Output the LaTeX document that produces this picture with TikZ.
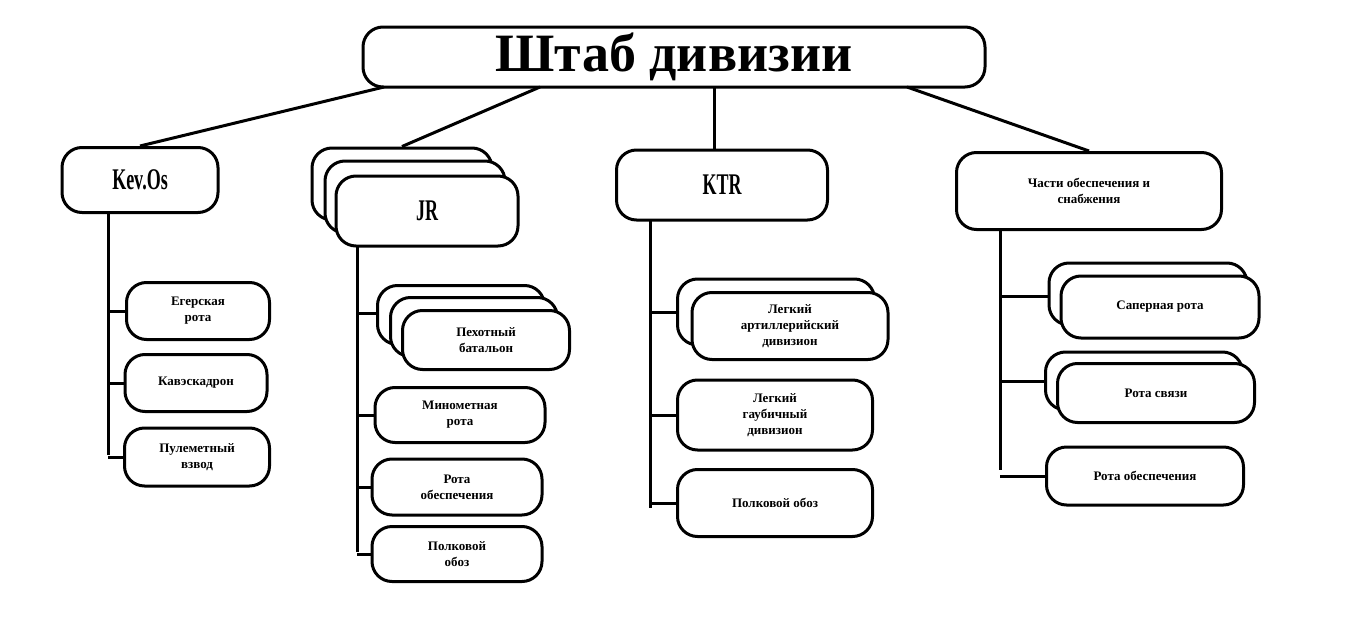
\documentclass[tikz,border=0pt]{standalone}
\usepackage{fontspec}
\setmainfont{Liberation Serif}
\tikzset{
	box/.style={draw, line width=3pt, rounded corners=20pt, fill=white, align=center, font=\bfseries\fontsize{13}{16}\selectfont, inner sep=2pt},
	head/.style={box, font=\bfseries\fontsize{30}{32}\selectfont\addfontfeature{FakeStretch=0.6}},
	link/.style={line width=3pt}
}
\begin{document}
\begin{tikzpicture}[x=1pt,y=-1pt]
			\useasboundingbox (0,0) rectangle (1350,629);
			\node[box, minimum width=622, minimum height=60, font=\bfseries\fontsize{54}{56}\selectfont] (shtab) at (674,57) {Штаб дивизии};
			% first level
			\node[head, minimum width=156, minimum height=65] (kev) at (140,180) {Kev.Os};
			\node[box, minimum width=180, minimum height=72] (jr3) at (402,184) {};
			\node[box, minimum width=180, minimum height=72] (jr2) at (415,197) {};
			\node[head, minimum width=182, minimum height=70] (jr) at (427,211) {JR};
			\node[head, minimum width=211, minimum height=70] (ktr) at (722,185) {KTR};
			\node[box, minimum width=265, minimum height=77] (chasti) at (1089,191) {Части обеспечения и\\снабжения};
			\draw[link] (384,87) -- (kev.north);
			\draw[link] (540,87) -- (jr3.north);
			\draw[link] (714,87) -- (714,150);
			\draw[link] (907,87) -- (chasti.north);
			% Kev.Os
			\draw[link] (108,213) -- (108,455);
			\node[box, minimum width=143, minimum height=57] (eger) at (198,311) {Егерская\\рота};
			\node[box, minimum width=142, minimum height=57] (kav) at (196,383) {Кавэскадрон};
			\node[box, minimum width=145, minimum height=58] (pul) at (197,457) {Пулеметный\\взвод};
			\foreach \n in {eger,kav,pul} \draw[link] (108,0 |- \n.west) -- (\n.west);
			% JR
			\draw[link] (357,246) -- (357,552);
			\node[box, minimum width=167, minimum height=59] (peh3) at (461,315) {};
			\node[box, minimum width=167, minimum height=59] (peh2) at (474,327) {};
			\node[box, minimum width=167, minimum height=59] (peh) at (486,340) {Пехотный\\батальон};
			\node[box, minimum width=170, minimum height=55] (min) at (460,415) {Минометная\\рота};
			\node[box, minimum width=170, minimum height=56] (robesp) at (457,487) {Рота\\обеспечения};
			\node[box, minimum width=170, minimum height=55] (obozjr) at (457,554) {Полковой\\обоз};
			\draw[link] (357,313) -- (peh3.west |- 0,313);
			\foreach \n in {min,robesp,obozjr} \draw[link] (357,0 |- \n.west) -- (\n.west);
			% KTR
			\draw[link] (650,220) -- (650,508);
			\node[box, minimum width=197, minimum height=66] (art2) at (776,312) {};
			\node[box, minimum width=196, minimum height=67] (art) at (790,326) {Легкий\\артиллерийский\\дивизион};
			\node[box, minimum width=195, minimum height=70] (gaub) at (775,415) {Легкий\\гаубичный\\дивизион};
			\node[box, minimum width=195, minimum height=67] (obozktr) at (775,503) {Полковой обоз};
			\draw[link] (650,312) -- (art2.west);
			\foreach \n in {gaub,obozktr} \draw[link] (650,0 |- \n.west) -- (\n.west);
			% Части
			\draw[link] (1000,230) -- (1000,470);
			\node[box, minimum width=198, minimum height=62] (sap2) at (1148,294) {};
			\node[box, minimum width=198, minimum height=62] (sap) at (1160,307) {Саперная рота};
			\node[box, minimum width=197, minimum height=58] (svyaz2) at (1144,381) {};
			\node[box, minimum width=197, minimum height=59] (svyaz) at (1156,393) {Рота связи};
			\node[box, minimum width=197, minimum height=58] (chobesp) at (1145,476) {Рота обеспечения};
			\draw[link] (1000,296) -- (sap2.west |- 0,296);
			\draw[link] (1000,381) -- (svyaz2.west);
			\draw[link] (1000,0 |- chobesp.west) -- (chobesp.west);
		\end{tikzpicture}
\end{document}
